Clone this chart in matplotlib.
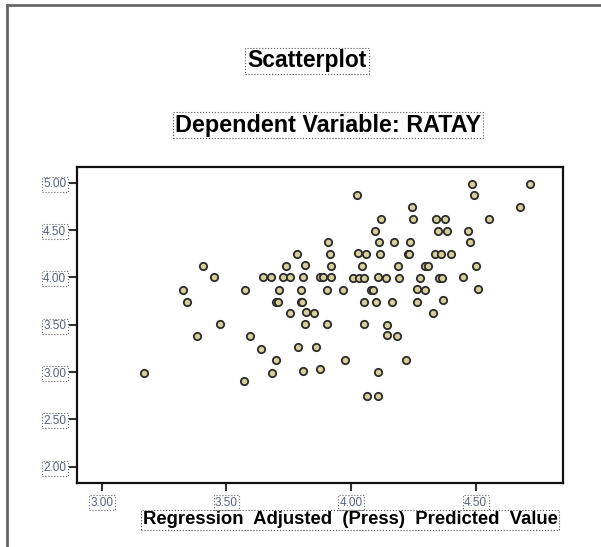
import matplotlib
matplotlib.use("Agg")
import matplotlib.pyplot as plt
from matplotlib.lines import Line2D

# Regression adjusted (press) predicted value
x_pred = [3.906, 3.782, 3.917, 3.406, 3.740, 3.814, 3.921, 3.450, 3.645, 3.680,
          3.727, 3.756, 3.807, 3.876, 3.888, 3.921, 3.324, 3.576, 3.712, 3.799,
          3.905, 3.340, 3.700, 3.706, 3.800, 3.805, 3.755, 3.821, 3.850, 3.475,
          3.814, 3.902, 3.381, 3.593, 3.637, 3.788, 3.859, 3.697, 3.167, 3.684,
          3.807, 3.875, 3.571,
          4.487, 4.720, 4.025, 4.494, 4.244, 4.677, 4.119, 4.250, 4.341, 4.378,
          4.552, 4.096, 4.351, 4.387, 4.471, 4.112, 4.174, 4.238, 4.478, 4.029,
          4.060, 4.118, 4.227, 4.233, 4.339, 4.360, 4.403, 4.043, 4.190, 4.297,
          4.307, 4.503, 4.009, 4.032, 4.054, 4.110, 4.139, 4.191, 4.278, 4.355,
          4.364, 4.449, 3.968, 4.079, 4.087, 4.266, 4.298, 4.509, 4.051, 4.102,
          4.163, 4.264, 4.369, 4.328, 4.051, 4.146, 4.143, 4.183, 3.976, 4.222,
          4.110, 4.063, 4.107]
# Dependent variable RATAY
y_ratay = [4.37, 4.245, 4.245, 4.12, 4.12, 4.13, 4.12, 4.00, 4.00, 4.00,
           4.00, 4.00, 4.00, 4.00, 4.00, 4.00, 3.87, 3.87, 3.87, 3.87,
           3.87, 3.745, 3.745, 3.745, 3.745, 3.745, 3.62, 3.63, 3.62, 3.505,
           3.505, 3.505, 3.38, 3.38, 3.245, 3.26, 3.26, 3.13, 2.995, 2.995,
           3.01, 3.03, 2.91,
           4.99, 4.99, 4.87, 4.87, 4.745, 4.745, 4.62, 4.62, 4.62, 4.62,
           4.62, 4.49, 4.49, 4.49, 4.49, 4.37, 4.37, 4.37, 4.37, 4.26,
           4.245, 4.245, 4.245, 4.245, 4.245, 4.245, 4.245, 4.12, 4.12, 4.12,
           4.12, 4.12, 3.995, 3.995, 3.995, 4.005, 3.995, 3.995, 3.995, 3.995,
           3.995, 4.005, 3.87, 3.87, 3.87, 3.88, 3.87, 3.88, 3.745, 3.745,
           3.745, 3.745, 3.76, 3.62, 3.505, 3.495, 3.39, 3.38, 3.13, 3.125,
           3.005, 2.745, 2.745]

x_ticks = [3.00, 3.50, 4.00, 4.50]
y_ticks = [2.00, 2.50, 3.00, 3.50, 4.00, 4.50, 5.00]

title = "Scatterplot"
subtitle = "Dependent Variable: RATAY"
xlabel = "Regression  Adjusted  (Press)  Predicted  Value"

W, H = 601, 547
fig = plt.figure(figsize=(W / 100, H / 100), dpi=100)
fig.patch.set_facecolor("white")

ax = fig.add_axes([77.3 / W, 1 - 482.7 / H, (562.5 - 77.3) / W, (482.7 - 167) / H])
ax.scatter(x_pred, y_ratay, s=28, facecolor="#d6cf9c", edgecolor="#2b2b2b",
           linewidths=1.3, zorder=3)
ax.set_xlim(2.901, 4.849)
ax.set_ylim(1.831, 5.166)

box = dict(boxstyle="square,pad=0.12", fc="none", ec="#666666", ls=":", lw=0.8)
ax.set_xticks(x_ticks)
ax.set_yticks(y_ticks)
ax.set_xticklabels([f"{v:.2f}" for v in x_ticks])
ax.set_yticklabels([f"{v:.2f}" for v in y_ticks])
for lab in ax.get_xticklabels() + ax.get_yticklabels():
    lab.set_fontfamily("Liberation Sans")
    lab.set_fontsize(8.5)
    lab.set_color("#55627e")
    lab.set_bbox(box)
ax.tick_params(axis="both", direction="out", length=6, width=1.5, color="#333333")
ax.tick_params(axis="x", pad=4)
ax.tick_params(axis="y", pad=2)
for sp in ax.spines.values():
    sp.set_linewidth(1.6)
    sp.set_color("#111111")

tbox = dict(boxstyle="square,pad=0.08", fc="none", ec="#555555", ls=":", lw=0.8)
fig.text(307 / W, 1 - 61 / H, title, ha="center", va="center",
         fontfamily="Liberation Sans", fontweight="bold", fontsize=16.5, bbox=tbox)
fig.text(328 / W, 1 - 125 / H, subtitle, ha="center", va="center",
         fontfamily="Liberation Sans", fontweight="bold", fontsize=16.8, bbox=tbox)
fig.text(350 / W, 1 - 520 / H, xlabel, ha="center", va="center",
         fontfamily="Liberation Sans", fontweight="bold", fontsize=13.3, bbox=tbox)

# outer frame lines (left and top)
fig.add_artist(Line2D([7 / W, 7 / W], [0, 1 - 5 / H], transform=fig.transFigure,
                      color="#666666", lw=2))
fig.add_artist(Line2D([7 / W, 1], [1 - 5 / H, 1 - 5 / H], transform=fig.transFigure,
                      color="#666666", lw=2))

fig.savefig("out.png", dpi=100)
